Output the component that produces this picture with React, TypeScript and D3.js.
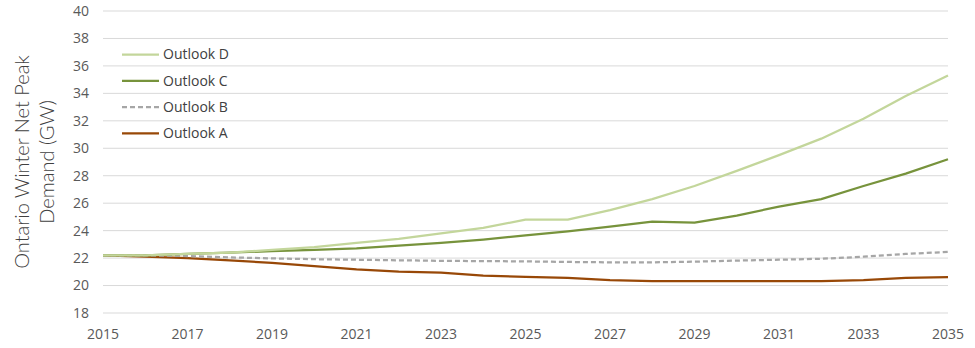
import React from "react";
import * as d3 from "d3";

const years = [2015, 2016, 2017, 2018, 2019, 2020, 2021, 2022, 2023, 2024, 2025, 2026, 2027, 2028, 2029, 2030, 2031, 2032, 2033, 2034, 2035];
const outlookD = [22.2, 22.2, 22.3, 22.4, 22.6, 22.8, 23.1, 23.4, 23.8, 24.2, 24.8, 24.8, 25.5, 26.3, 27.25, 28.35, 29.5, 30.7, 32.15, 33.8, 35.3];
const outlookC = [22.2, 22.2, 22.3, 22.4, 22.5, 22.6, 22.7, 22.9, 23.1, 23.35, 23.65, 23.95, 24.3, 24.65, 24.58, 25.1, 25.75, 26.3, 27.25, 28.15, 29.2];
const outlookB = [22.2, 22.2, 22.15, 22.05, 21.98, 21.92, 21.88, 21.84, 21.8, 21.78, 21.76, 21.72, 21.69, 21.69, 21.74, 21.82, 21.88, 21.95, 22.1, 22.3, 22.45];
const outlookA = [22.2, 22.1, 22.0, 21.83, 21.66, 21.42, 21.18, 21.02, 20.94, 20.72, 20.63, 20.56, 20.4, 20.33, 20.33, 20.33, 20.33, 20.33, 20.4, 20.55, 20.62];
const yTicks = [18, 20, 22, 24, 26, 28, 30, 32, 34, 36, 38, 40];
const xTicks = [2015, 2017, 2019, 2021, 2023, 2025, 2027, 2029, 2031, 2033, 2035];
const seriesNames = ["Outlook D", "Outlook C", "Outlook B", "Outlook A"];

const series = [
  { name: seriesNames[0], values: outlookD, color: "#c3d69b", dash: "" },
  { name: seriesNames[1], values: outlookC, color: "#77933c", dash: "" },
  { name: seriesNames[2], values: outlookB, color: "#a6a6a6", dash: "5,3" },
  { name: seriesNames[3], values: outlookA, color: "#984807", dash: "" },
];

export default function App() {
  const W = 975, H = 348;
  const x = d3.scaleLinear().domain([2015, 2035]).range([103, 948]);
  const y = d3.scaleLinear().domain([18, 40]).range([313, 11]);
  const line = d3.line<number>().x((_, i) => x(years[i])).y((v) => y(v));
  const font = "'Open Sans', sans-serif";
  return (
    <svg width={W} height={H} style={{ position: "absolute", left: 0, top: 0, background: "#fff" }}>
      {yTicks.map((t) => (
        <g key={t}>
          <line x1={103} x2={948} y1={y(t)} y2={y(t)} stroke="#d9d9d9" strokeWidth={1} />
          <text x={89} y={y(t)} dy="0.35em" textAnchor="end" fontFamily={font} fontSize={14} fill="#595959">{t}</text>
        </g>
      ))}
      {xTicks.map((t) => (
        <text key={t} x={x(t)} y={339} textAnchor="middle" fontFamily={font} fontSize={14} fill="#595959">{t}</text>
      ))}
      <g transform="translate(0,162) rotate(-90)" fontFamily="Lato, sans-serif" fontWeight={300} fontSize={20} fill="#404040" textAnchor="middle">
        <text x={0} y={29}>Ontario Winter Net Peak</text>
        <text x={0} y={54}>Demand (GW)</text>
      </g>
      {[...series].reverse().map((s) => (
        <path key={s.name} d={line(s.values) || ""} fill="none" stroke={s.color} strokeWidth={2.25} strokeDasharray={s.dash} strokeLinejoin="round" />
      ))}
      {series.map((s, i) => {
        const ly = 54.5 + i * 26.3;
        return (
          <g key={s.name}>
            <line x1={122} x2={159} y1={ly} y2={ly} stroke={s.color} strokeWidth={2.25} strokeDasharray={s.dash} />
            <text x={163} y={ly} dy="0.35em" fontFamily={font} fontSize={14} fill="#404040">{s.name}</text>
          </g>
        );
      })}
    </svg>
  );
}
